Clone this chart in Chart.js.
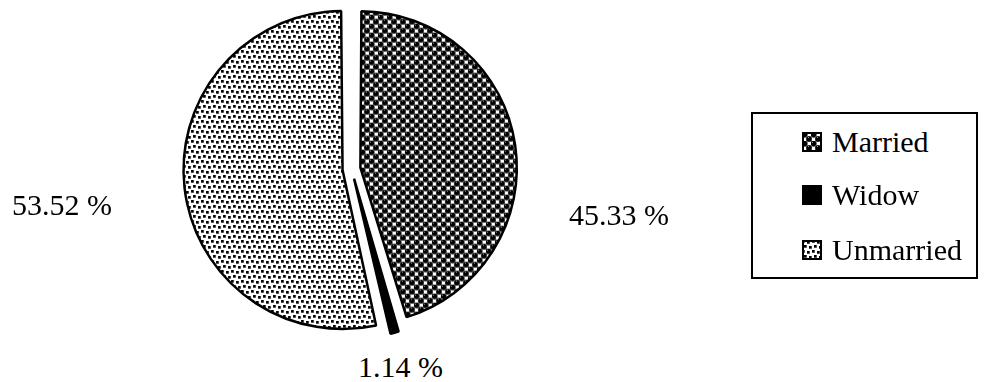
<!DOCTYPE html>
<html>
<head>
<meta charset="utf-8">
<script src="https://cdn.jsdelivr.net/npm/chart.js@4.4.1/dist/chart.umd.min.js"></script>
<style>
  html, body { margin: 0; padding: 0; background: #fff; }
  body { width: 1001px; height: 382px; position: relative; overflow: hidden; font-family: "Liberation Serif", "Times New Roman", serif; }
  #wrap { position: absolute; left: 0; top: -11px; width: 703px; height: 360px; }
  .lbl { position: absolute; font-size: 30px; line-height: 30px; color: #000; white-space: nowrap; }
  #legend { position: absolute; left: 751px; top: 112px; width: 223px; height: 163px; border: 2px solid #000; }
  .item { position: absolute; left: 0; font-size: 30px; line-height: 30px; white-space: nowrap; }
  .item canvas { position: absolute; }
  .item span { position: absolute; left: 79px; top: 0; }
</style>
</head>
<body>
<div id="wrap"><canvas id="c" width="703" height="360"></canvas></div>
<div id="labels"></div>
<div id="legend"></div>
<script>
// ---- data ----
const categories = ['Married', 'Widow', 'Unmarried'];
const percentValues = [45.33, 1.14, 53.52];

// ---- layout (label anchor: left x, baseline y) ----
const labelLeft = [569, 358, 12];
const labelBaseline = [225, 377, 215];
const legendRowTop = [13, 66, 121];

function marriedPattern() {
  const t = document.createElement('canvas'); t.width = 9; t.height = 9;
  const g = t.getContext('2d');
  g.fillStyle = '#fff'; g.fillRect(0, 0, 9, 9);
  const centers = [[2.5, 2.5], [7, 7], [-2, 7], [7, -2], [-2, -2], [2.5, 11.5], [11.5, 2.5], [11.5, 11.5], [-2, 16]];
  g.fillStyle = '#777';
  centers.forEach(p => { g.beginPath(); g.arc(p[0], p[1], 3.4, 0, Math.PI * 2); g.fill(); });
  g.fillStyle = '#000';
  centers.forEach(p => { g.beginPath(); g.arc(p[0], p[1], 2.7, 0, Math.PI * 2); g.fill(); });
  g.fillStyle = '#fff';
  g.fillRect(6, 1, 3, 3); g.fillRect(1, 6, 3, 3);
  g.fillStyle = '#999';
  g.fillRect(1, 1, 1, 1); g.fillRect(6, 5, 1, 1);
  return t;
}
function dotsPattern() {
  const t = document.createElement('canvas'); t.width = 10; t.height = 10;
  const g = t.getContext('2d');
  g.fillStyle = '#fff'; g.fillRect(0, 0, 10, 10);
  const pts = [[0,0],[5,1],[2,5],[7,6]];
  g.fillStyle = '#999';
  pts.forEach(p => g.fillRect(p[0], p[1], 3, 3));
  g.fillStyle = '#000';
  pts.forEach(p => g.fillRect(p[0], p[1], 2.5, 2.5));
  return t;
}

const ctx = document.getElementById('c').getContext('2d');
const patM = ctx.createPattern(marriedPattern(), 'repeat');
const patU = ctx.createPattern(dotsPattern(), 'repeat');
const fills = [patM, '#000', patU];

new Chart(ctx, {
  type: 'pie',
  data: {
    labels: categories,
    datasets: [{
      data: percentValues,
      backgroundColor: fills,
      borderColor: '#000',
      borderWidth: 2.5,
      offset: [36, 40, 36]
    }]
  },
  options: {
    responsive: false,
    animation: false,
    devicePixelRatio: 1,
    radius: 150,
    layout: { padding: 0 },
    plugins: { legend: { display: false }, tooltip: { enabled: false } }
  }
});

// labels (text from data)
const labelsDiv = document.getElementById('labels');
percentValues.forEach((v, i) => {
  const d = document.createElement('div');
  d.className = 'lbl';
  d.textContent = v.toFixed(2) + ' %';
  d.style.left = labelLeft[i] + 'px';
  d.style.top = (labelBaseline[i] - 25) + 'px';
  labelsDiv.appendChild(d);
});

// legend
const legend = document.getElementById('legend');
const iconSrc = [marriedPattern(), null, dotsPattern()];
categories.forEach((name, i) => {
  const row = document.createElement('div');
  row.className = 'item';
  row.style.top = legendRowTop[i] + 'px';
  row.style.width = '220px'; row.style.height = '30px';
  const ic = document.createElement('canvas');
  ic.width = 20; ic.height = 20;
  ic.style.left = '49px'; ic.style.top = '5px';
  const g = ic.getContext('2d');
  if (iconSrc[i]) { g.fillStyle = g.createPattern(iconSrc[i], 'repeat'); } else { g.fillStyle = '#000'; }
  g.fillRect(0, 0, 20, 20);
  g.strokeStyle = '#000'; g.lineWidth = 2; g.strokeRect(1, 1, 18, 18);
  row.appendChild(ic);
  const s = document.createElement('span');
  s.textContent = name;
  row.appendChild(s);
  legend.appendChild(row);
});
</script>
</body>
</html>
